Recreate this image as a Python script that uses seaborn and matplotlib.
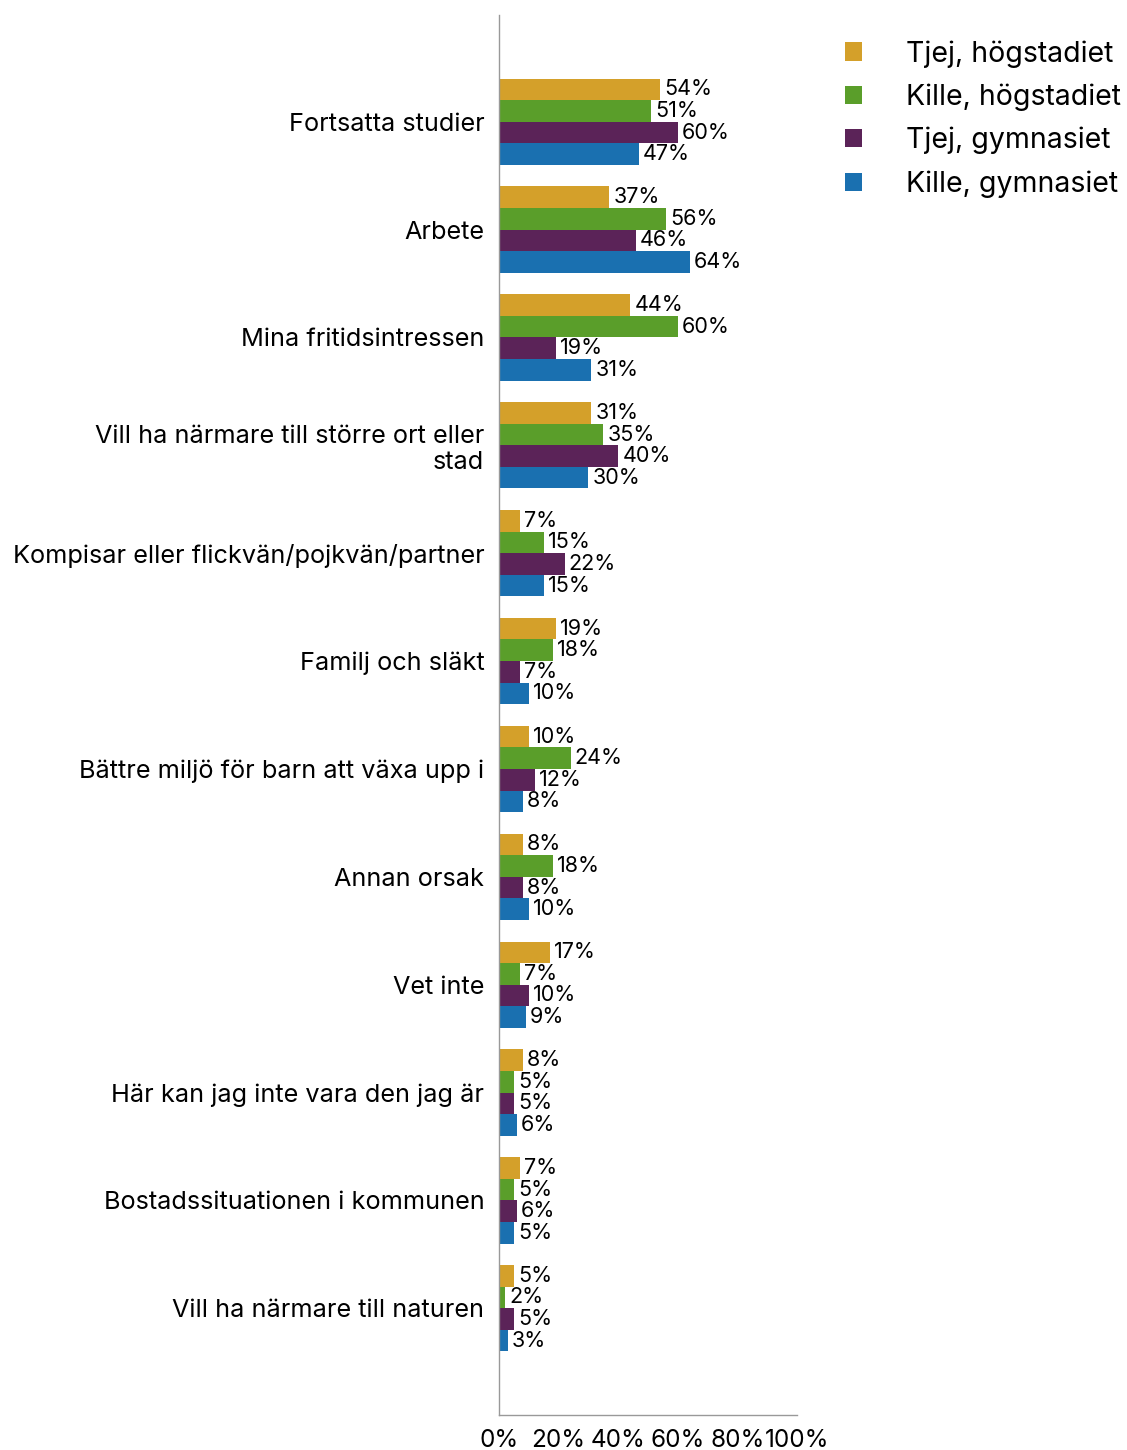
import matplotlib
matplotlib.use("Agg")
import matplotlib.pyplot as plt
import seaborn as sns
import pandas as pd
from matplotlib.patches import Patch

categories = [
    "Fortsatta studier",
    "Arbete",
    "Mina fritidsintressen",
    "Vill ha närmare till större ort eller\nstad",
    "Kompisar eller flickvän/pojkvän/partner",
    "Familj och släkt",
    "Bättre miljö för barn att växa upp i",
    "Annan orsak",
    "Vet inte",
    "Här kan jag inte vara den jag är",
    "Bostadssituationen i kommunen",
    "Vill ha närmare till naturen",
]
series = ["Tjej, högstadiet", "Kille, högstadiet", "Tjej, gymnasiet", "Kille, gymnasiet"]
tjej_hog = [54, 37, 44, 31, 7, 19, 10, 8, 17, 8, 7, 5]
kille_hog = [51, 56, 60, 35, 15, 18, 24, 18, 7, 5, 5, 2]
tjej_gym = [60, 46, 19, 40, 22, 7, 12, 8, 10, 5, 6, 5]
kille_gym = [47, 64, 31, 30, 15, 10, 8, 10, 9, 6, 5, 3]
xticks = [0, 20, 40, 60, 80, 100]
xticklabels = ["0%", "20%", "40%", "60%", "80%", "100%"]

colors = ["#D4A02A", "#5A9E2A", "#5B2358", "#1A70B0"]

rows = []
for s, vals in zip(series, [tjej_hog, kille_hog, tjej_gym, kille_gym]):
    for c, v in zip(categories, vals):
        rows.append({"cat": c, "serie": s, "val": v})
df = pd.DataFrame(rows)

sns.set_style("white")
plt.rcParams["font.family"] = ["Inter", "DejaVu Sans"]

fig = plt.figure(figsize=(11.27, 14.5), dpi=100)
ax = fig.add_axes([499 / 1127, 1 - 1415 / 1450, 298 / 1127, 1400 / 1450])

sns.barplot(data=df, y="cat", x="val", hue="serie", order=categories,
            hue_order=series, palette=colors, orient="h", width=0.8,
            saturation=1, ax=ax, legend=False, errorbar=None, linewidth=0)

for cont in ax.containers:
    ax.bar_label(cont, labels=[f"{int(round(b.get_width()))}%" for b in cont],
                 padding=3, fontsize=15.5, color="#000000")

ax.set_xlim(0, 100)
ax.set_ylim(11.99, -0.99)
ax.set_xticks(xticks)
ax.set_xticklabels(xticklabels, fontsize=17.5, color="#000000")
ax.set_xlabel("")
ax.set_ylabel("")
ax.tick_params(axis="y", labelsize=18.2, length=8, color="#999999", width=1, pad=2.5,
               labelcolor="#000000")
ax.tick_params(axis="x", length=8, color="#999999", width=1, pad=2, direction="out")
for lab in ax.get_yticklabels():
    lab.set_horizontalalignment("right")
for sp in ["top", "right"]:
    ax.spines[sp].set_visible(False)
for sp in ["left", "bottom"]:
    ax.spines[sp].set_color("#999999")
    ax.spines[sp].set_linewidth(1)
ax.grid(False)

handles = [Patch(facecolor=c, edgecolor="none") for c in colors]
fig.legend(handles, series, loc="upper left", bbox_to_anchor=(845 / 1127, 1 - 40 / 1450),
           frameon=False, fontsize=20.5, handlelength=0.6, handleheight=0.6,
           handletextpad=1.55, labelspacing=0.56, borderpad=0, borderaxespad=0,
           labelcolor="#000000")

fig.savefig("out.png", dpi=100)
